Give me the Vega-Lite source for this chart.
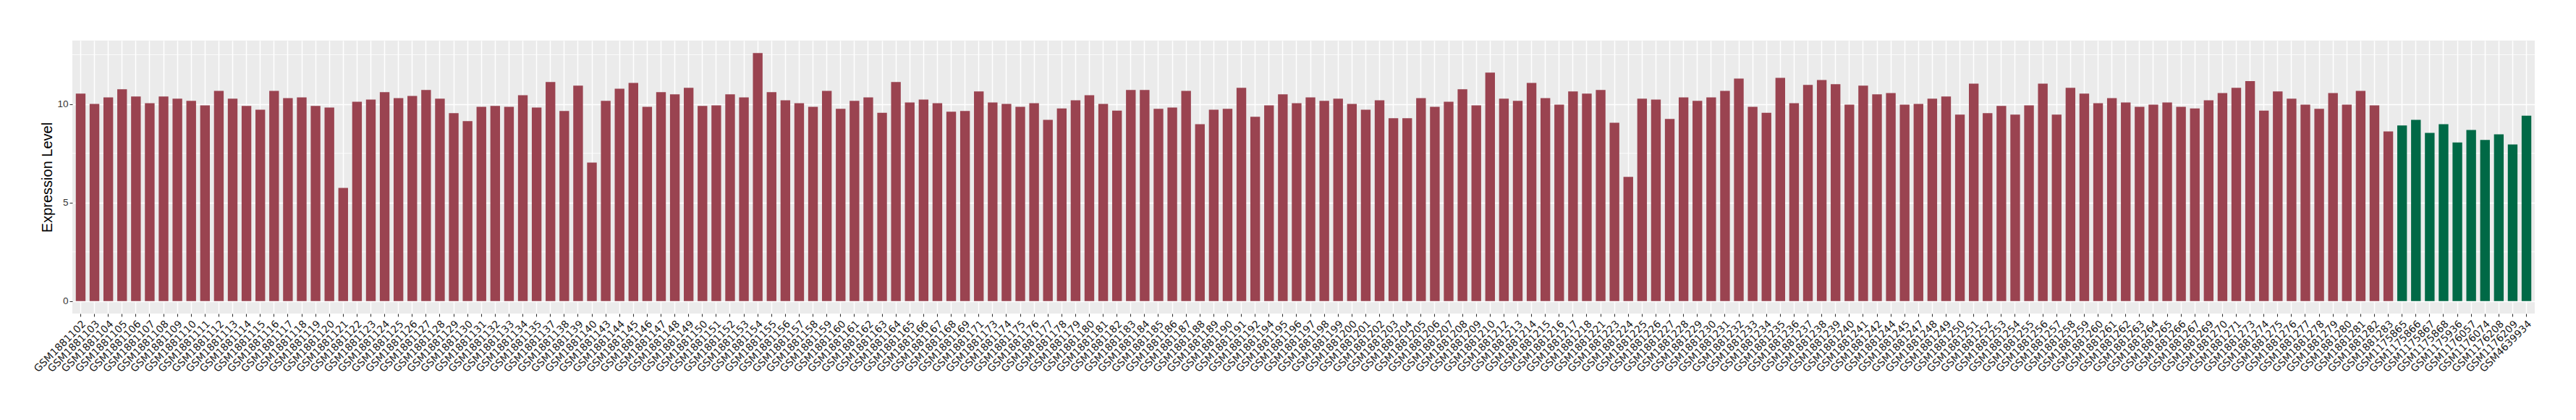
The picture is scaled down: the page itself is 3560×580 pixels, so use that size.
{
  "$schema": "https://vega.github.io/schema/vega-lite/v6.json",
  "autosize": {"type": "none"},
  "padding": {"left": 100, "top": 56, "right": 57, "bottom": 147},
  "width": 3403,
  "height": 377,
  "background": "white",
  "config": {"view": {"fill": "#EBEBEB", "stroke": null}},
  "datasets": {
    "bars": [
      {"sample":"GSM1881102","value":10.53,"group":"A"},
      {"sample":"GSM1881103","value":10.01,"group":"A"},
      {"sample":"GSM1881104","value":10.34,"group":"A"},
      {"sample":"GSM1881105","value":10.75,"group":"A"},
      {"sample":"GSM1881106","value":10.38,"group":"A"},
      {"sample":"GSM1881107","value":10.04,"group":"A"},
      {"sample":"GSM1881108","value":10.38,"group":"A"},
      {"sample":"GSM1881109","value":10.27,"group":"A"},
      {"sample":"GSM1881110","value":10.16,"group":"A"},
      {"sample":"GSM1881111","value":9.93,"group":"A"},
      {"sample":"GSM1881112","value":10.67,"group":"A"},
      {"sample":"GSM1881113","value":10.27,"group":"A"},
      {"sample":"GSM1881114","value":9.90,"group":"A"},
      {"sample":"GSM1881115","value":9.71,"group":"A"},
      {"sample":"GSM1881116","value":10.67,"group":"A"},
      {"sample":"GSM1881117","value":10.30,"group":"A"},
      {"sample":"GSM1881118","value":10.34,"group":"A"},
      {"sample":"GSM1881119","value":9.90,"group":"A"},
      {"sample":"GSM1881120","value":9.82,"group":"A"},
      {"sample":"GSM1881121","value":5.74,"group":"A"},
      {"sample":"GSM1881122","value":10.12,"group":"A"},
      {"sample":"GSM1881123","value":10.23,"group":"A"},
      {"sample":"GSM1881124","value":10.60,"group":"A"},
      {"sample":"GSM1881125","value":10.30,"group":"A"},
      {"sample":"GSM1881126","value":10.41,"group":"A"},
      {"sample":"GSM1881127","value":10.71,"group":"A"},
      {"sample":"GSM1881128","value":10.27,"group":"A"},
      {"sample":"GSM1881129","value":9.54,"group":"A"},
      {"sample":"GSM1881130","value":9.13,"group":"A"},
      {"sample":"GSM1881131","value":9.86,"group":"A"},
      {"sample":"GSM1881132","value":9.90,"group":"A"},
      {"sample":"GSM1881133","value":9.86,"group":"A"},
      {"sample":"GSM1881134","value":10.45,"group":"A"},
      {"sample":"GSM1881135","value":9.82,"group":"A"},
      {"sample":"GSM1881137","value":11.12,"group":"A"},
      {"sample":"GSM1881138","value":9.65,"group":"A"},
      {"sample":"GSM1881139","value":10.93,"group":"A"},
      {"sample":"GSM1881140","value":7.03,"group":"A"},
      {"sample":"GSM1881143","value":10.16,"group":"A"},
      {"sample":"GSM1881144","value":10.78,"group":"A"},
      {"sample":"GSM1881145","value":11.07,"group":"A"},
      {"sample":"GSM1881146","value":9.86,"group":"A"},
      {"sample":"GSM1881147","value":10.60,"group":"A"},
      {"sample":"GSM1881148","value":10.49,"group":"A"},
      {"sample":"GSM1881149","value":10.82,"group":"A"},
      {"sample":"GSM1881150","value":9.90,"group":"A"},
      {"sample":"GSM1881151","value":9.93,"group":"A"},
      {"sample":"GSM1881152","value":10.49,"group":"A"},
      {"sample":"GSM1881153","value":10.34,"group":"A"},
      {"sample":"GSM1881154","value":12.59,"group":"A"},
      {"sample":"GSM1881155","value":10.60,"group":"A"},
      {"sample":"GSM1881156","value":10.19,"group":"A"},
      {"sample":"GSM1881157","value":10.04,"group":"A"},
      {"sample":"GSM1881158","value":9.86,"group":"A"},
      {"sample":"GSM1881159","value":10.67,"group":"A"},
      {"sample":"GSM1881160","value":9.76,"group":"A"},
      {"sample":"GSM1881161","value":10.16,"group":"A"},
      {"sample":"GSM1881162","value":10.34,"group":"A"},
      {"sample":"GSM1881163","value":9.56,"group":"A"},
      {"sample":"GSM1881164","value":11.12,"group":"A"},
      {"sample":"GSM1881165","value":10.08,"group":"A"},
      {"sample":"GSM1881166","value":10.23,"group":"A"},
      {"sample":"GSM1881167","value":10.04,"group":"A"},
      {"sample":"GSM1881168","value":9.61,"group":"A"},
      {"sample":"GSM1881169","value":9.65,"group":"A"},
      {"sample":"GSM1881171","value":10.64,"group":"A"},
      {"sample":"GSM1881173","value":10.08,"group":"A"},
      {"sample":"GSM1881174","value":10.01,"group":"A"},
      {"sample":"GSM1881175","value":9.86,"group":"A"},
      {"sample":"GSM1881176","value":10.04,"group":"A"},
      {"sample":"GSM1881177","value":9.20,"group":"A"},
      {"sample":"GSM1881178","value":9.78,"group":"A"},
      {"sample":"GSM1881179","value":10.19,"group":"A"},
      {"sample":"GSM1881180","value":10.45,"group":"A"},
      {"sample":"GSM1881181","value":10.01,"group":"A"},
      {"sample":"GSM1881182","value":9.67,"group":"A"},
      {"sample":"GSM1881183","value":10.71,"group":"A"},
      {"sample":"GSM1881184","value":10.71,"group":"A"},
      {"sample":"GSM1881185","value":9.76,"group":"A"},
      {"sample":"GSM1881186","value":9.82,"group":"A"},
      {"sample":"GSM1881187","value":10.67,"group":"A"},
      {"sample":"GSM1881188","value":8.98,"group":"A"},
      {"sample":"GSM1881189","value":9.71,"group":"A"},
      {"sample":"GSM1881190","value":9.76,"group":"A"},
      {"sample":"GSM1881191","value":10.82,"group":"A"},
      {"sample":"GSM1881192","value":9.35,"group":"A"},
      {"sample":"GSM1881194","value":9.93,"group":"A"},
      {"sample":"GSM1881195","value":10.49,"group":"A"},
      {"sample":"GSM1881196","value":10.04,"group":"A"},
      {"sample":"GSM1881197","value":10.34,"group":"A"},
      {"sample":"GSM1881198","value":10.16,"group":"A"},
      {"sample":"GSM1881199","value":10.27,"group":"A"},
      {"sample":"GSM1881200","value":10.01,"group":"A"},
      {"sample":"GSM1881201","value":9.71,"group":"A"},
      {"sample":"GSM1881202","value":10.19,"group":"A"},
      {"sample":"GSM1881203","value":9.28,"group":"A"},
      {"sample":"GSM1881204","value":9.28,"group":"A"},
      {"sample":"GSM1881205","value":10.30,"group":"A"},
      {"sample":"GSM1881206","value":9.86,"group":"A"},
      {"sample":"GSM1881207","value":10.12,"group":"A"},
      {"sample":"GSM1881208","value":10.75,"group":"A"},
      {"sample":"GSM1881209","value":9.93,"group":"A"},
      {"sample":"GSM1881210","value":11.59,"group":"A"},
      {"sample":"GSM1881212","value":10.27,"group":"A"},
      {"sample":"GSM1881213","value":10.16,"group":"A"},
      {"sample":"GSM1881214","value":11.07,"group":"A"},
      {"sample":"GSM1881215","value":10.30,"group":"A"},
      {"sample":"GSM1881216","value":9.97,"group":"A"},
      {"sample":"GSM1881217","value":10.64,"group":"A"},
      {"sample":"GSM1881218","value":10.53,"group":"A"},
      {"sample":"GSM1881221","value":10.71,"group":"A"},
      {"sample":"GSM1881223","value":9.05,"group":"A"},
      {"sample":"GSM1881224","value":6.30,"group":"A"},
      {"sample":"GSM1881225","value":10.27,"group":"A"},
      {"sample":"GSM1881226","value":10.23,"group":"A"},
      {"sample":"GSM1881227","value":9.24,"group":"A"},
      {"sample":"GSM1881228","value":10.34,"group":"A"},
      {"sample":"GSM1881229","value":10.16,"group":"A"},
      {"sample":"GSM1881230","value":10.34,"group":"A"},
      {"sample":"GSM1881231","value":10.67,"group":"A"},
      {"sample":"GSM1881232","value":11.29,"group":"A"},
      {"sample":"GSM1881233","value":9.86,"group":"A"},
      {"sample":"GSM1881234","value":9.56,"group":"A"},
      {"sample":"GSM1881235","value":11.33,"group":"A"},
      {"sample":"GSM1881236","value":10.04,"group":"A"},
      {"sample":"GSM1881237","value":10.97,"group":"A"},
      {"sample":"GSM1881238","value":11.22,"group":"A"},
      {"sample":"GSM1881239","value":11.01,"group":"A"},
      {"sample":"GSM1881240","value":9.97,"group":"A"},
      {"sample":"GSM1881241","value":10.93,"group":"A"},
      {"sample":"GSM1881242","value":10.49,"group":"A"},
      {"sample":"GSM1881244","value":10.56,"group":"A"},
      {"sample":"GSM1881245","value":9.97,"group":"A"},
      {"sample":"GSM1881247","value":10.01,"group":"A"},
      {"sample":"GSM1881248","value":10.27,"group":"A"},
      {"sample":"GSM1881249","value":10.38,"group":"A"},
      {"sample":"GSM1881250","value":9.46,"group":"A"},
      {"sample":"GSM1881251","value":11.03,"group":"A"},
      {"sample":"GSM1881252","value":9.54,"group":"A"},
      {"sample":"GSM1881253","value":9.90,"group":"A"},
      {"sample":"GSM1881254","value":9.46,"group":"A"},
      {"sample":"GSM1881255","value":9.93,"group":"A"},
      {"sample":"GSM1881256","value":11.03,"group":"A"},
      {"sample":"GSM1881257","value":9.46,"group":"A"},
      {"sample":"GSM1881258","value":10.82,"group":"A"},
      {"sample":"GSM1881259","value":10.53,"group":"A"},
      {"sample":"GSM1881260","value":10.04,"group":"A"},
      {"sample":"GSM1881261","value":10.30,"group":"A"},
      {"sample":"GSM1881262","value":10.08,"group":"A"},
      {"sample":"GSM1881263","value":9.86,"group":"A"},
      {"sample":"GSM1881264","value":9.97,"group":"A"},
      {"sample":"GSM1881265","value":10.08,"group":"A"},
      {"sample":"GSM1881266","value":9.86,"group":"A"},
      {"sample":"GSM1881267","value":9.78,"group":"A"},
      {"sample":"GSM1881269","value":10.19,"group":"A"},
      {"sample":"GSM1881270","value":10.56,"group":"A"},
      {"sample":"GSM1881271","value":10.82,"group":"A"},
      {"sample":"GSM1881273","value":11.16,"group":"A"},
      {"sample":"GSM1881274","value":9.67,"group":"A"},
      {"sample":"GSM1881275","value":10.64,"group":"A"},
      {"sample":"GSM1881276","value":10.27,"group":"A"},
      {"sample":"GSM1881277","value":9.97,"group":"A"},
      {"sample":"GSM1881278","value":9.76,"group":"A"},
      {"sample":"GSM1881279","value":10.56,"group":"A"},
      {"sample":"GSM1881280","value":9.97,"group":"A"},
      {"sample":"GSM1881281","value":10.67,"group":"A"},
      {"sample":"GSM1881282","value":9.93,"group":"A"},
      {"sample":"GSM1881283","value":8.61,"group":"A"},
      {"sample":"GSM1175865","value":8.91,"group":"B"},
      {"sample":"GSM1175866","value":9.20,"group":"B"},
      {"sample":"GSM1175867","value":8.54,"group":"B"},
      {"sample":"GSM1175868","value":8.98,"group":"B"},
      {"sample":"GSM1175936","value":8.05,"group":"B"},
      {"sample":"GSM1176057","value":8.68,"group":"B"},
      {"sample":"GSM1176074","value":8.18,"group":"B"},
      {"sample":"GSM1176208","value":8.46,"group":"B"},
      {"sample":"GSM1176209","value":7.95,"group":"B"},
      {"sample":"GSM4639934","value":9.41,"group":"B"}
    ],
    "minor": [{"v": 2.5}, {"v": 7.5}, {"v": 12.5}]
  },
  "layer": [
    {
      "data": {"name": "minor"},
      "mark": {"type": "rule", "color": "white", "strokeWidth": 0.8},
      "encoding": {
        "y": {
          "field": "v", "type": "quantitative",
          "scale": {"domain": [-0.63, 13.22], "nice": false, "zero": false},
          "axis": {
            "title": "Expression Level", "values": [0, 5, 10],
            "titleFont": "Liberation Sans", "titleFontSize": 20, "titleFontWeight": "normal", "titleColor": "#000000", "titlePadding": 3,
            "labelFont": "Liberation Sans", "labelFontSize": 13.5, "labelColor": "#333333", "labelPadding": 2,
            "tickColor": "#333333", "tickSize": 4, "tickWidth": 1.1,
            "domain": false, "grid": true, "gridColor": "white", "gridWidth": 1.5
          }
        }
      }
    },
    {
      "data": {"name": "bars"},
      "mark": {"type": "bar"},
      "encoding": {
        "x": {
          "field": "sample", "type": "nominal", "sort": null,
          "scale": {"paddingInner": 0.3, "paddingOuter": 0.25},
          "axis": {
            "title": null, "labelAngle": -45, "labelAlign": "right", "labelBaseline": "top",
            "labelFont": "DejaVu Sans", "labelFontSize": 14, "labelColor": "#1A1A1A",
            "labelOverlap": false, "labelPadding": 3, "bandPosition": 0.5,
            "tickColor": "#333333", "tickSize": 4, "tickWidth": 1.1,
            "domain": false, "grid": true, "gridColor": "white", "gridWidth": 1.5
          }
        },
        "y": {
          "field": "value", "type": "quantitative",
          "scale": {"domain": [-0.63, 13.22], "nice": false, "zero": false},
          "axis": {
            "title": "Expression Level", "values": [0, 5, 10],
            "titleFont": "Liberation Sans", "titleFontSize": 20, "titleFontWeight": "normal", "titleColor": "#000000", "titlePadding": 3,
            "labelFont": "Liberation Sans", "labelFontSize": 13.5, "labelColor": "#333333", "labelPadding": 2,
            "tickColor": "#333333", "tickSize": 4, "tickWidth": 1.1,
            "domain": false, "grid": true, "gridColor": "white", "gridWidth": 1.5
          }
        },
        "color": {
          "field": "group", "type": "nominal",
          "scale": {"domain": ["A", "B"], "range": ["#9A4350", "#006946"]},
          "legend": null
        }
      }
    }
  ]
}
